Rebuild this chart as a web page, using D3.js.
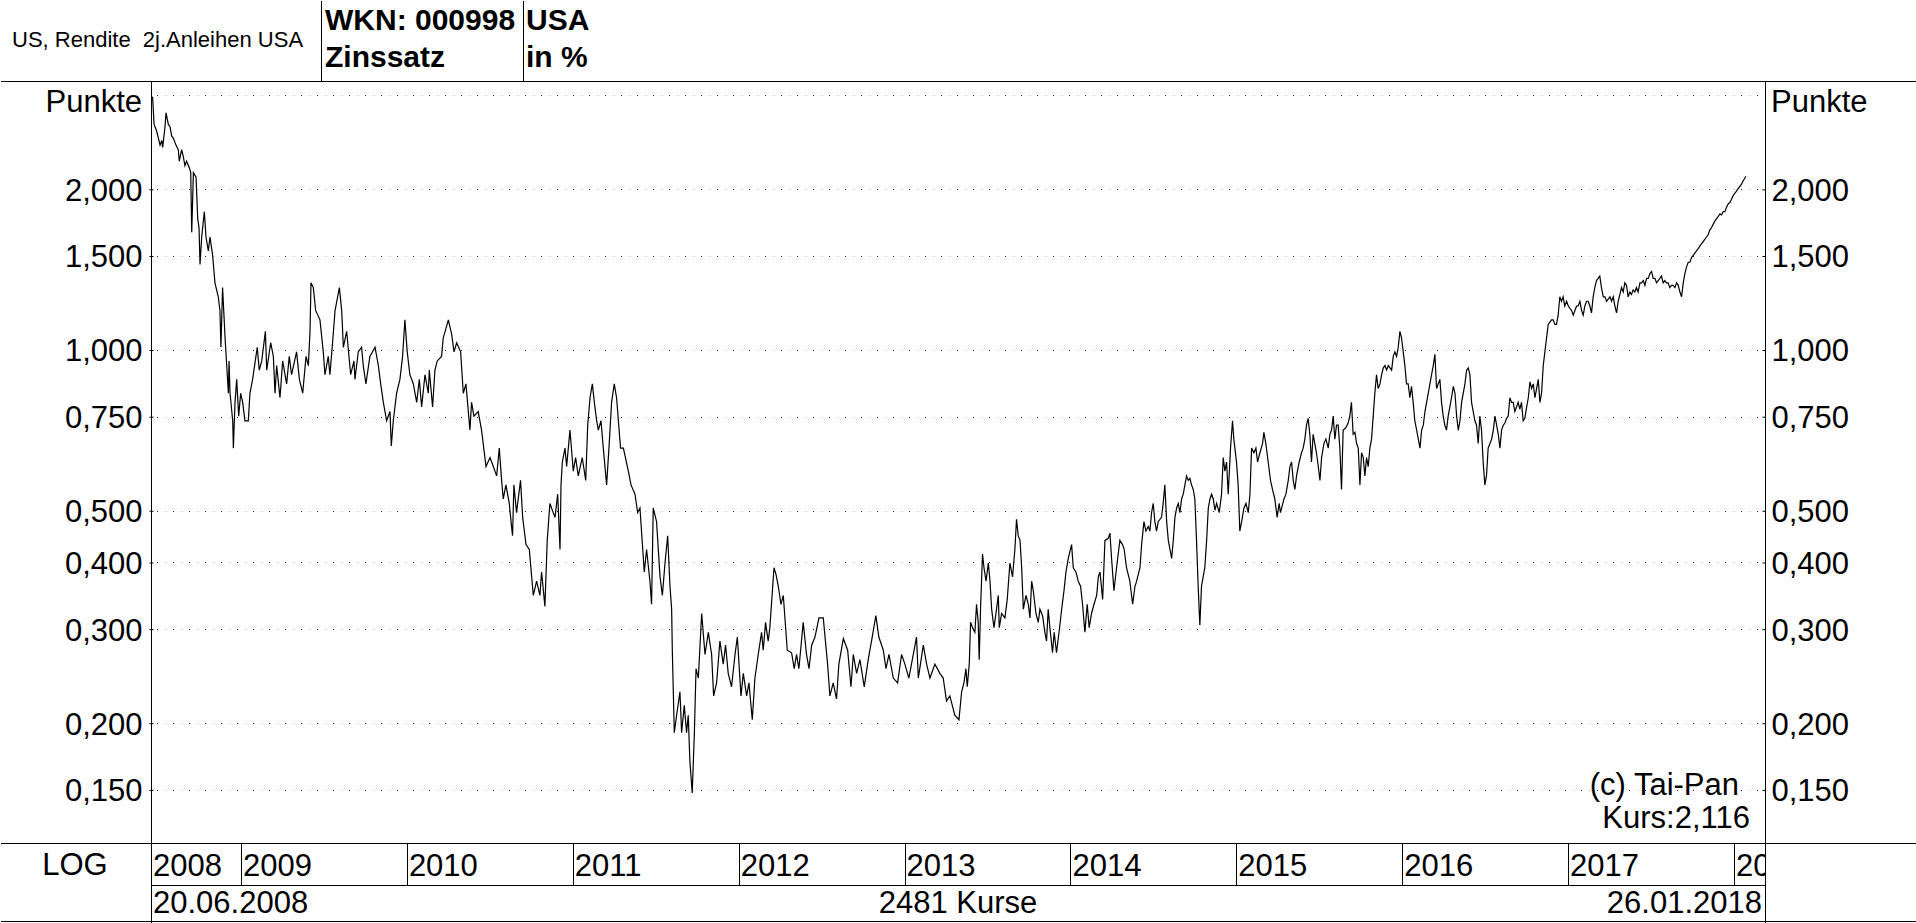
<!DOCTYPE html>
<html><head><meta charset="utf-8">
<script src="https://cdn.jsdelivr.net/npm/d3@7"></script>
<style>
body{margin:0;background:#fff;}
svg{display:block;}
text{font-family:"Liberation Sans",Arial,sans-serif;fill:#000;}
</style>
</head><body>
<svg id="chart" width="1916" height="923"></svg>
<script>
// ---------- data (decimal year, yield in %) ----------
const kurse = [
[2008.467,2.98],[2008.476,2.646],[2008.492,2.569],[2008.512,2.420],[2008.522,2.469],[2008.528,2.396],[2008.542,2.620],[2008.548,2.781],
[2008.562,2.646],[2008.572,2.620],[2008.582,2.518],[2008.592,2.494],[2008.608,2.420],[2008.622,2.373],[2008.628,2.258],[2008.642,2.373],
[2008.652,2.304],[2008.662,2.214],[2008.672,2.258],[2008.689,2.192],[2008.697,2.149],[2008.703,1.661],[2008.713,2.149],[2008.729,2.107],
[2008.739,1.763],[2008.747,1.694],[2008.753,1.446],[2008.763,1.628],[2008.779,1.816],[2008.789,1.628],[2008.803,1.534],[2008.813,1.628],
[2008.829,1.504],[2008.843,1.336],[2008.863,1.258],[2008.873,1.186],[2008.879,1.012],[2008.889,1.309],[2008.904,1.053],[2008.924,0.830],
[2008.928,0.954],[2008.934,0.830],[2008.950,0.737],[2008.954,0.655],[2008.964,0.798],[2008.974,0.881],[2008.986,0.752],[2008.998,0.830],
[2009.010,0.798],[2009.024,0.737],[2009.044,0.737],[2009.054,0.830],[2009.070,0.881],[2009.090,0.973],[2009.098,1.012],[2009.110,0.917],
[2009.125,0.954],[2009.147,1.084],[2009.155,0.917],[2009.179,1.032],[2009.195,0.973],[2009.205,0.830],[2009.215,0.935],[2009.235,0.814],
[2009.251,0.954],[2009.275,0.864],[2009.291,0.973],[2009.305,0.899],[2009.335,0.992],[2009.352,0.881],[2009.372,0.830],[2009.392,0.973],
[2009.406,0.935],[2009.416,1.084],[2009.422,1.336],[2009.436,1.309],[2009.450,1.186],[2009.476,1.139],[2009.496,0.992],[2009.506,0.899],
[2009.526,0.973],[2009.536,0.899],[2009.552,1.032],[2009.567,1.186],[2009.593,1.309],[2009.607,1.186],[2009.617,1.012],[2009.637,1.084],
[2009.661,0.899],[2009.681,0.954],[2009.687,0.881],[2009.707,0.992],[2009.727,1.012],[2009.737,0.935],[2009.753,0.864],[2009.777,0.973],
[2009.808,1.012],[2009.828,0.935],[2009.842,0.864],[2009.858,0.798],[2009.878,0.737],[2009.898,0.767],[2009.906,0.661],[2009.918,0.737],
[2009.938,0.830],[2009.958,0.881],[2009.974,0.973],[2009.988,1.139],[2010.002,0.992],[2010.018,0.899],[2010.039,0.864],[2010.059,0.798],
[2010.075,0.881],[2010.089,0.782],[2010.109,0.899],[2010.129,0.830],[2010.135,0.917],[2010.155,0.782],[2010.169,0.917],[2010.183,0.954],
[2010.209,0.973],[2010.219,1.053],[2010.250,1.139],[2010.270,1.070],[2010.284,0.992],[2010.300,1.032],[2010.324,0.992],[2010.340,0.830],
[2010.356,0.864],[2010.380,0.708],[2010.390,0.798],[2010.404,0.752],[2010.430,0.767],[2010.450,0.708],[2010.477,0.605],[2010.501,0.629],
[2010.521,0.605],[2010.541,0.581],[2010.557,0.655],[2010.571,0.570],[2010.581,0.526],[2010.597,0.559],[2010.617,0.516],[2010.631,0.467],
[2010.637,0.449],[2010.645,0.559],[2010.661,0.496],[2010.685,0.570],[2010.698,0.486],[2010.718,0.432],[2010.738,0.423],[2010.762,0.347],
[2010.782,0.369],[2010.802,0.347],[2010.812,0.384],[2010.832,0.331],[2010.846,0.440],[2010.862,0.516],[2010.882,0.496],
[2010.893,0.486],[2010.909,0.537],[2010.923,0.423],[2010.929,0.559],[2010.937,0.617],[2010.953,0.655],[2010.963,0.605],[2010.983,0.708],
[2011.003,0.593],[2011.017,0.629],[2011.033,0.581],[2011.057,0.629],[2011.078,0.570],[2011.090,0.723],[2011.104,0.814],[2011.118,0.864],
[2011.130,0.798],[2011.144,0.737],[2011.154,0.708],[2011.170,0.737],[2011.184,0.655],[2011.204,0.559],[2011.218,0.655],[2011.234,0.798],
[2011.250,0.864],[2011.264,0.814],[2011.288,0.655],[2011.305,0.655],[2011.335,0.593],[2011.351,0.559],[2011.375,0.537],[2011.391,0.496],
[2011.405,0.506],[2011.431,0.384],[2011.445,0.423],[2011.465,0.369],[2011.475,0.334],[2011.485,0.506],[2011.505,0.477],[2011.526,0.376],
[2011.540,0.347],[2011.556,0.399],[2011.572,0.449],[2011.586,0.361],[2011.596,0.327],[2011.600,0.274],[2011.612,0.192],[2011.626,0.207],
[2011.646,0.229],[2011.656,0.192],[2011.672,0.216],[2011.686,0.192],[2011.696,0.207],[2011.706,0.170],[2011.720,0.148],[2011.733,0.192],
[2011.743,0.253],[2011.757,0.243],[2011.777,0.321],[2011.797,0.269],[2011.817,0.296],[2011.837,0.269],[2011.849,0.225],[2011.867,0.238],
[2011.887,0.285],[2011.907,0.258],[2011.921,0.280],[2011.937,0.248],[2011.957,0.234],[2011.978,0.269],[2011.992,0.290],[2012.014,0.225],
[2012.028,0.248],[2012.048,0.225],[2012.062,0.238],[2012.082,0.203],[2012.098,0.243],[2012.118,0.269],[2012.138,0.296],[2012.148,0.274],
[2012.162,0.309],[2012.178,0.285],[2012.188,0.302],[2012.213,0.391],[2012.225,0.380],[2012.239,0.361],[2012.255,0.334],[2012.269,0.347],
[2012.293,0.274],[2012.319,0.271],[2012.335,0.253],[2012.349,0.269],[2012.363,0.253],[2012.389,0.309],[2012.409,0.269],[2012.424,0.253],
[2012.440,0.280],[2012.460,0.290],[2012.484,0.315],[2012.510,0.315],[2012.536,0.258],[2012.550,0.225],[2012.570,0.238],[2012.590,0.222],
[2012.604,0.258],[2012.631,0.288],[2012.657,0.274],[2012.677,0.234],[2012.691,0.269],[2012.711,0.248],[2012.731,0.263],[2012.757,0.234],
[2012.781,0.263],[2012.805,0.290],[2012.827,0.318],[2012.845,0.290],[2012.872,0.274],[2012.888,0.253],[2012.906,0.269],[2012.932,0.243],
[2012.958,0.238],[2012.982,0.269],[2013.002,0.258],[2013.026,0.243],[2013.072,0.290],[2013.083,0.243],[2013.113,0.280],[2013.133,0.258],
[2013.153,0.243],[2013.183,0.258],[2013.213,0.248],[2013.233,0.243],[2013.253,0.220],[2013.273,0.225],[2013.303,0.207],[2013.328,0.203],
[2013.344,0.229],[2013.358,0.238],[2013.370,0.253],[2013.378,0.234],[2013.390,0.258],[2013.398,0.309],[2013.410,0.302],[2013.424,0.296],
[2013.434,0.334],[2013.444,0.309],[2013.450,0.263],[2013.458,0.327],[2013.470,0.415],[2013.479,0.391],[2013.491,0.369],[2013.505,0.399],
[2013.515,0.369],[2013.525,0.327],[2013.539,0.302],[2013.551,0.321],[2013.565,0.347],[2013.571,0.302],[2013.585,0.321],[2013.605,0.315],
[2013.619,0.341],[2013.635,0.399],[2013.651,0.376],[2013.665,0.423],[2013.675,0.482],[2013.685,0.449],[2013.696,0.440],[2013.706,0.391],
[2013.716,0.327],[2013.732,0.347],[2013.746,0.334],[2013.756,0.315],[2013.766,0.369],[2013.776,0.354],[2013.792,0.321],[2013.806,0.309],
[2013.816,0.327],[2013.832,0.318],[2013.846,0.296],[2013.856,0.285],[2013.866,0.327],[2013.876,0.302],[2013.892,0.271],[2013.902,0.296],
[2013.916,0.271],[2013.933,0.299],[2013.947,0.327],[2013.961,0.354],[2013.973,0.384],[2013.987,0.407],[2014.007,0.432],[2014.017,0.391],
[2014.033,0.384],[2014.047,0.369],[2014.061,0.361],[2014.073,0.334],[2014.087,0.296],[2014.101,0.334],[2014.113,0.302],[2014.127,0.321],
[2014.142,0.334],[2014.158,0.347],[2014.168,0.376],[2014.178,0.384],[2014.194,0.341],[2014.208,0.440],[2014.228,0.444],[2014.238,0.454],
[2014.248,0.407],[2014.262,0.354],[2014.278,0.391],[2014.288,0.415],[2014.298,0.440],[2014.314,0.432],[2014.324,0.423],[2014.338,0.391],
[2014.358,0.369],[2014.375,0.334],[2014.389,0.361],[2014.399,0.369],[2014.419,0.391],[2014.429,0.432],[2014.443,0.477],[2014.455,0.458],
[2014.469,0.467],[2014.479,0.458],[2014.489,0.496],[2014.499,0.516],[2014.509,0.477],[2014.519,0.458],[2014.529,0.477],[2014.549,0.486],
[2014.559,0.516],[2014.569,0.559],[2014.580,0.477],[2014.590,0.440],[2014.600,0.423],[2014.610,0.407],[2014.620,0.440],[2014.630,0.486],
[2014.640,0.506],[2014.650,0.516],[2014.660,0.496],[2014.670,0.526],[2014.680,0.537],[2014.690,0.559],[2014.700,0.581],[2014.710,0.570],
[2014.720,0.575],[2014.730,0.559],[2014.740,0.548],[2014.750,0.526],[2014.760,0.440],[2014.770,0.361],[2014.780,0.305],[2014.790,0.361],
[2014.800,0.376],[2014.810,0.391],[2014.821,0.440],[2014.831,0.506],[2014.841,0.526],[2014.851,0.537],[2014.861,0.526],[2014.871,0.501],
[2014.881,0.516],[2014.897,0.496],[2014.911,0.537],[2014.921,0.629],[2014.931,0.593],[2014.941,0.617],[2014.951,0.537],[2014.965,0.655],
[2014.977,0.737],[2014.985,0.681],[2015.001,0.617],[2015.011,0.559],[2015.021,0.458],[2015.032,0.477],[2015.046,0.506],[2015.058,0.516],
[2015.072,0.496],[2015.082,0.537],[2015.092,0.655],[2015.106,0.642],[2015.118,0.655],[2015.128,0.617],[2015.142,0.642],[2015.158,0.668],
[2015.166,0.701],[2015.178,0.668],[2015.192,0.617],[2015.206,0.570],[2015.218,0.548],[2015.232,0.526],[2015.246,0.486],[2015.258,0.516],
[2015.266,0.496],[2015.287,0.526],[2015.299,0.537],[2015.313,0.570],[2015.323,0.605],[2015.333,0.617],[2015.343,0.570],[2015.353,0.548],
[2015.363,0.581],[2015.379,0.617],[2015.393,0.642],[2015.403,0.655],[2015.413,0.681],[2015.423,0.723],[2015.433,0.745],[2015.443,0.695],
[2015.453,0.617],[2015.463,0.695],[2015.473,0.668],[2015.483,0.642],[2015.494,0.605],[2015.504,0.570],[2015.514,0.629],[2015.528,0.668],
[2015.540,0.681],[2015.554,0.655],[2015.564,0.695],[2015.574,0.708],[2015.584,0.752],[2015.594,0.681],[2015.604,0.723],[2015.614,0.723],
[2015.624,0.655],[2015.634,0.548],[2015.644,0.708],[2015.660,0.715],[2015.674,0.730],[2015.684,0.752],[2015.694,0.798],[2015.704,0.695],
[2015.715,0.701],[2015.725,0.668],[2015.735,0.655],[2015.745,0.559],[2015.755,0.642],[2015.765,0.629],[2015.775,0.581],[2015.785,0.629],
[2015.795,0.605],[2015.805,0.655],[2015.815,0.681],[2015.825,0.752],[2015.835,0.830],[2015.845,0.899],[2015.855,0.847],[2015.866,0.864],
[2015.876,0.899],[2015.886,0.926],[2015.896,0.935],[2015.906,0.917],[2015.916,0.935],[2015.926,0.926],[2015.936,0.917],[2015.946,0.973],
[2015.956,0.992],[2015.966,0.973],[2015.976,1.012],[2015.986,1.084],[2015.996,1.053],[2016.006,0.992],[2016.016,0.935],[2016.026,0.864],
[2016.036,0.864],[2016.046,0.814],[2016.056,0.855],[2016.066,0.798],[2016.076,0.737],[2016.087,0.708],[2016.097,0.681],[2016.107,0.655],
[2016.117,0.708],[2016.127,0.723],[2016.137,0.767],[2016.147,0.798],[2016.157,0.830],[2016.167,0.864],[2016.177,0.899],[2016.187,0.935],
[2016.197,0.982],[2016.207,0.847],[2016.217,0.864],[2016.227,0.881],[2016.237,0.798],[2016.247,0.752],[2016.257,0.723],[2016.267,0.708],
[2016.277,0.752],[2016.287,0.782],[2016.297,0.814],[2016.308,0.855],[2016.318,0.830],[2016.328,0.752],[2016.338,0.708],[2016.348,0.737],
[2016.358,0.798],[2016.368,0.830],[2016.378,0.864],[2016.388,0.917],[2016.398,0.926],[2016.408,0.899],[2016.418,0.798],[2016.428,0.767],
[2016.438,0.737],[2016.448,0.723],[2016.458,0.668],[2016.468,0.752],[2016.478,0.708],[2016.488,0.617],[2016.498,0.559],[2016.508,0.581],
[2016.518,0.655],[2016.529,0.668],[2016.539,0.681],[2016.549,0.708],[2016.559,0.752],[2016.569,0.723],[2016.579,0.695],[2016.589,0.655],
[2016.599,0.708],[2016.609,0.723],[2016.619,0.730],[2016.629,0.745],[2016.639,0.752],[2016.649,0.814],[2016.659,0.798],[2016.669,0.798],
[2016.679,0.767],[2016.689,0.782],[2016.699,0.798],[2016.709,0.775],[2016.719,0.798],[2016.729,0.737],[2016.739,0.745],[2016.750,0.782],
[2016.760,0.814],[2016.770,0.872],[2016.780,0.847],[2016.790,0.864],[2016.800,0.814],[2016.810,0.847],[2016.820,0.881],[2016.830,0.798],
[2016.840,0.830],[2016.850,0.935],[2016.860,0.992],[2016.870,1.053],[2016.880,1.117],[2016.890,1.128],[2016.900,1.139],[2016.910,1.139],
[2016.920,1.117],[2016.930,1.117],[2016.940,1.162],[2016.950,1.258],[2016.960,1.234],[2016.970,1.258],[2016.980,1.209],[2016.991,1.234],
[2017.001,1.209],[2017.011,1.197],[2017.021,1.186],[2017.031,1.162],[2017.041,1.186],[2017.051,1.209],[2017.061,1.209],[2017.071,1.234],
[2017.081,1.186],[2017.091,1.162],[2017.101,1.209],[2017.111,1.234],[2017.121,1.234],[2017.131,1.209],[2017.141,1.174],[2017.151,1.258],
[2017.161,1.309],[2017.171,1.349],[2017.181,1.362],[2017.191,1.376],[2017.201,1.309],[2017.212,1.258],[2017.222,1.258],[2017.232,1.234],
[2017.242,1.246],[2017.252,1.258],[2017.262,1.234],[2017.272,1.258],[2017.282,1.209],[2017.292,1.174],[2017.302,1.234],[2017.312,1.271],
[2017.322,1.309],[2017.332,1.284],[2017.342,1.336],[2017.352,1.322],[2017.362,1.258],[2017.372,1.284],[2017.382,1.271],[2017.392,1.296],
[2017.402,1.284],[2017.412,1.309],[2017.422,1.284],[2017.433,1.336],[2017.443,1.336],[2017.453,1.349],[2017.463,1.322],[2017.473,1.362],
[2017.483,1.362],[2017.493,1.390],[2017.503,1.403],[2017.513,1.362],[2017.523,1.362],[2017.533,1.336],[2017.543,1.349],[2017.553,1.362],
[2017.563,1.376],[2017.573,1.336],[2017.583,1.349],[2017.593,1.336],[2017.603,1.336],[2017.613,1.309],[2017.623,1.322],[2017.633,1.322],
[2017.644,1.309],[2017.654,1.336],[2017.664,1.322],[2017.674,1.284],[2017.684,1.258],[2017.694,1.336],[2017.704,1.390],[2017.714,1.431],
[2017.724,1.460],[2017.734,1.460],[2017.744,1.490],[2017.754,1.504],[2017.764,1.519],[2017.774,1.534],[2017.784,1.549],[2017.794,1.565],
[2017.804,1.580],[2017.814,1.596],[2017.824,1.612],[2017.834,1.628],[2017.844,1.644],[2017.854,1.677],[2017.864,1.694],[2017.875,1.721],
[2017.885,1.745],[2017.895,1.763],[2017.905,1.780],[2017.915,1.798],[2017.925,1.791],[2017.935,1.816],[2017.945,1.816],[2017.955,1.852],
[2017.965,1.878],[2017.975,1.889],[2017.985,1.916],[2017.995,1.946],[2018.005,1.966],[2018.015,1.985],[2018.025,2.005],[2018.035,2.025],
[2018.045,2.045],[2018.055,2.073],[2018.065,2.098],[2018.071,2.116]
];
const tickValues = [2.0, 1.5, 1.0, 0.75, 0.5, 0.4, 0.3, 0.2, 0.15];
const gridValues = [3.0, 2.0, 1.5, 1.0, 0.75, 0.5, 0.4, 0.3, 0.2, 0.15];
const yearLabels = [2008, 2009, 2010, 2011, 2012, 2013, 2014, 2015, 2016, 2017, 2018];
const headerTitle = "US, Rendite  2j.Anleihen USA";
const headerWkn = ["WKN: 000998", "Zinssatz"];
const headerUnit = ["USA", "in %"];
const axisTitle = "Punkte";
const startDate = "20.06.2008", endDate = "26.01.2018", countText = "2481 Kurse";
const copyText = "(c) Tai-Pan", lastText = "Kurs:2,116";

// ---------- layout ----------
const W = 1916, H = 923;
const L = 151, R = 1765, T = 81, B = 843, YR = 885, BOT = 921;
const svg = d3.select("#chart");
svg.append("rect").attr("width", W).attr("height", H).attr("fill", "#fff");

const x = d3.scaleLinear().domain([2009, 2018]).range([241, 1734]);
const y = d3.scaleLog().domain([0.15, 2.0]).range([789.9, 189.3]);
const de = d3.formatLocale({decimal: ",", thousands: ".", grouping: [3], currency: ["", "€"]});
const fmt = de.format(".3f");

const FS = 31;

// header
svg.append("text").attr("x", 12).attr("y", 47).attr("font-size", 22)
  .style("white-space", "pre").text(headerTitle);
svg.selectAll(".hw").data(headerWkn).join("text")
  .attr("x", 325).attr("y", (d, i) => i ? 67 : 30).attr("font-size", 30).attr("font-weight", "bold").text(d => d);
svg.selectAll(".hu").data(headerUnit).join("text")
  .attr("x", 526).attr("y", (d, i) => i ? 67 : 30).attr("font-size", 30).attr("font-weight", "bold").text(d => d);

// frame lines
const lines = [
  [0, T, W, T], [320.5, 0, 320.5, T], [522.5, 0, 522.5, T],
  [L, T, L, H], [R, T, R, H],
  [0, B, W, B], [L, YR, R, YR], [0, BOT, W, BOT]
];
svg.selectAll(".frame").data(lines).join("line")
  .attr("x1", d => Math.round(d[0]) + 0.5).attr("y1", d => d[1] + 0.5)
  .attr("x2", d => Math.round(d[2]) + 0.5).attr("y2", d => d[3] + 0.5)
  .attr("stroke", "#000").attr("stroke-width", 1).attr("shape-rendering", "crispEdges");

// grid (dotted)
const grid = svg.append("g");
gridValues.forEach(v => {
  const gy = Math.round(y(v)) + 0.5;
  grid.append("line").attr("x1", L + 6).attr("x2", R - 2).attr("y1", gy).attr("y2", gy)
    .attr("stroke", "#d4d4d4").attr("stroke-width", 1).attr("stroke-dasharray", "2 14").attr("stroke-dashoffset", -8);
  grid.append("line").attr("x1", L + 6).attr("x2", R - 2).attr("y1", gy).attr("y2", gy)
    .attr("stroke", "#222").attr("stroke-width", 1).attr("stroke-dasharray", "1 15");
});

// axes ticks and labels
const leftAxis = d3.axisLeft(y).tickValues(tickValues).tickFormat(fmt).tickSize(3).tickPadding(6);
const gl = svg.append("g").attr("transform", `translate(${L + 0.5},0)`).call(leftAxis);
const rightAxis = d3.axisRight(y).tickValues(tickValues).tickFormat(fmt).tickSize(0).tickPadding(6);
const gr = svg.append("g").attr("transform", `translate(${R + 0.5},0)`).call(rightAxis);
[gl, gr].forEach(g => {
  g.select(".domain").remove();
  g.selectAll("text").attr("font-size", FS).attr("font-family", "'Liberation Sans', Arial, sans-serif")
    .attr("fill", "#000").attr("dy", "0.35em");
  g.selectAll("line").attr("stroke", "#000");
});
gl.selectAll(".tick line").attr("x2", 2).attr("x1", -2);
gr.selectAll(".tick line").attr("x1", -3).attr("x2", 0);
gl.attr("font-size", null); gr.attr("font-size", null);

svg.append("text").attr("x", L - 9).attr("y", 112).attr("text-anchor", "end").attr("font-size", FS).text(axisTitle);
svg.append("text").attr("x", R + 6).attr("y", 112).attr("font-size", FS).text(axisTitle);

// line
svg.append("clipPath").attr("id", "plotclip").append("rect")
  .attr("x", L + 1).attr("y", T + 1).attr("width", R - L - 1).attr("height", B - T - 1);
const line = d3.line().x(d => x(d[0])).y(d => y(d[1]));
svg.append("path").datum(kurse).attr("clip-path", "url(#plotclip)")
  .attr("d", line).attr("fill", "none").attr("stroke", "#000").attr("stroke-width", 1.2)
  .attr("stroke-linejoin", "miter");

// annotations
svg.append("text").attr("x", 1739).attr("y", 795).attr("text-anchor", "end").attr("font-size", FS).text(copyText);
svg.append("text").attr("x", 1750).attr("y", 828).attr("text-anchor", "end").attr("font-size", FS).text(lastText);

// year row
svg.append("clipPath").attr("id", "yearclip").append("rect")
  .attr("x", L + 1).attr("y", B).attr("width", R - L - 1).attr("height", YR - B);
const yr = svg.append("g").attr("clip-path", "url(#yearclip)");
yr.selectAll("line").data(yearLabels.filter(d => x(d) > L + 2)).join("line")
  .attr("x1", d => Math.round(x(d)) + 0.5).attr("x2", d => Math.round(x(d)) + 0.5)
  .attr("y1", B).attr("y2", YR).attr("stroke", "#000").attr("shape-rendering", "crispEdges");
yr.selectAll("text").data(yearLabels).join("text")
  .attr("x", d => Math.max(x(d), L) + 2).attr("y", 876).attr("font-size", FS).text(d => d);

svg.append("text").attr("x", 75).attr("y", 875).attr("text-anchor", "middle").attr("font-size", FS).text("LOG");
svg.append("text").attr("x", L + 2).attr("y", 913).attr("font-size", FS).text(startDate);
svg.append("text").attr("x", (L + R) / 2).attr("y", 913).attr("text-anchor", "middle").attr("font-size", FS).text(countText);
svg.append("text").attr("x", R - 3).attr("y", 913).attr("text-anchor", "end").attr("font-size", FS).text(endDate);
</script>
</body></html>
